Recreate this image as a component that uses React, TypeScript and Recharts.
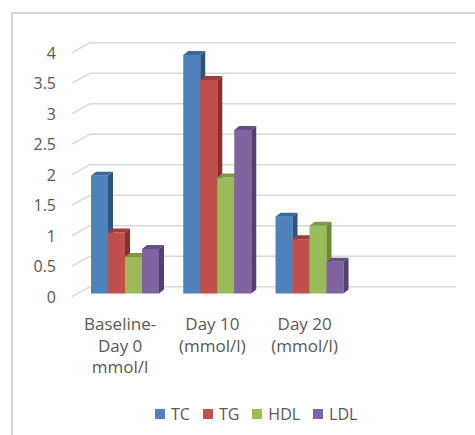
import React from "react";
import { BarChart, Bar, XAxis, YAxis, CartesianGrid, Legend } from "recharts";

// lipid profile values (mmol/l)
const categories = ["Baseline-|Day 0|mmol/l", "Day 10|(mmol/l)", "Day 20|(mmol/l)", ""];
const tc = [1.93, 3.91, 1.26, null];
const tg = [1.0, 3.5, 0.89, null];
const hdl = [0.6, 1.9, 1.11, null];
const ldl = [0.73, 2.68, 0.52, null];
const yTicks = [0, 0.5, 1, 1.5, 2, 2.5, 3, 3.5, 4];

const series = [
  { key: "TC", values: tc, front: "#4F81BD", top: "#3D6899", side: "#2E5382" },
  { key: "TG", values: tg, front: "#C0504D", top: "#9E3D3A", side: "#8A2F2D" },
  { key: "HDL", values: hdl, front: "#9BBB59", top: "#7C9A41", side: "#6B8A36" },
  { key: "LDL", values: ldl, front: "#8064A2", top: "#664E85", side: "#553F72" },
];

const data = categories.map((name, i) => {
  const row: Record<string, any> = { name };
  series.forEach((s) => (row[s.key] = s.values[i]));
  return row;
});

const FONT = "'Open Sans', 'Liberation Sans', sans-serif";
const TEXT = "#595959";
const GRID = "#D9D9D9";
const DX = 5;
const DY = 4;

// fake 3D column: front face, top cap, right side
const make3D = (front: string, top: string, side: string) => (props: any) => {
  const { x, y, width, height } = props;
  if (x == null || !height || height <= 0) return <g />;
  const r = x + width;
  const b = y + height;
  return (
    <g>
      <rect x={x} y={y} width={width} height={height} fill={front} />
      <polygon
        points={`${x},${y} ${x + DX},${y - DY} ${r + DX},${y - DY} ${r},${y}`}
        fill={top}
      />
      <polygon
        points={`${r},${y} ${r + DX},${y - DY} ${r + DX},${b - DY} ${r},${b}`}
        fill={side}
      />
    </g>
  );
};

// gridlines sit on the back wall, with a short slanted stub to the front
const gridLine = (p: any) => {
  const { x1, x2, y1 } = p;
  const d = `M${x1 - 6},${y1 + 3.2} L${x1 + 12},${y1 - 6.8} L${x2 + 9},${y1 - 6.8}`;
  return <path key={p.key ?? `g-${y1}`} d={d} fill="none" stroke={GRID} strokeWidth={1.5} />;
};

const YTick = (props: any) => {
  const { y, payload } = props;
  return (
    <text x={56} y={y + 3.4} textAnchor="end" dominantBaseline="central" fontFamily={FONT} fontSize={16} fill={TEXT}>
      {payload.value}
    </text>
  );
};

const XTick = (props: any) => {
  const { x, payload } = props;
  const lines = String(payload.value).split("|").filter((l) => l);
  return (
    <text x={x - 4} y={330} textAnchor="middle" fontFamily={FONT} fontSize={17} fill={TEXT}>
      {lines.map((l, i) => (
        <tspan key={i} x={x - 4} dy={i === 0 ? 0 : 21.5}>
          {l}
        </tspan>
      ))}
    </text>
  );
};

const LegendContent = () => (
  <div style={{ display: "flex", alignItems: "center", fontFamily: FONT, fontSize: 16, color: TEXT, paddingLeft: 155 }}>
    {series.map((s) => (
      <div key={s.key} style={{ display: "flex", alignItems: "center", marginRight: 13 }}>
        <span style={{ width: 10, height: 10, background: s.front, display: "inline-block", marginRight: 6 }} />
        <span>{s.key}</span>
      </div>
    ))}
  </div>
);

export default function App() {
  return (
    <div style={{ position: "absolute", left: 0, top: 0, width: 475, height: 435, background: "#fff", overflow: "hidden" }}>
      <div
        style={{
          position: "absolute",
          left: 11,
          top: 12,
          width: 480,
          height: 440,
          borderLeft: `2px solid ${GRID}`,
          borderTop: `2px solid ${GRID}`,
        }}
      />
      <BarChart
        width={475}
        height={435}
        data={data}
        margin={{ top: 49.5, right: 28, left: 18, bottom: 81.5 }}
        barCategoryGap={13}
        barGap={0}
      >
        <CartesianGrid vertical={false} horizontal={gridLine} />
        <XAxis dataKey="name" axisLine={false} tickLine={false} height={60} tick={<XTick />} interval={0} />
        <YAxis
          width={60}
          domain={[0, 4]}
          ticks={yTicks}
          axisLine={false}
          tickLine={false}
          tick={<YTick />}
          interval={0}
        />
        <Legend
          verticalAlign="middle"
          content={<LegendContent />}
          wrapperStyle={{ top: 403, left: 0, width: 475, height: 20 }}
        />
        {series.map((s) => (
          <Bar
            key={s.key}
            dataKey={s.key}
            fill={s.front}
            isAnimationActive={false}
            shape={make3D(s.front, s.top, s.side)}
          />
        ))}
      </BarChart>
    </div>
  );
}
